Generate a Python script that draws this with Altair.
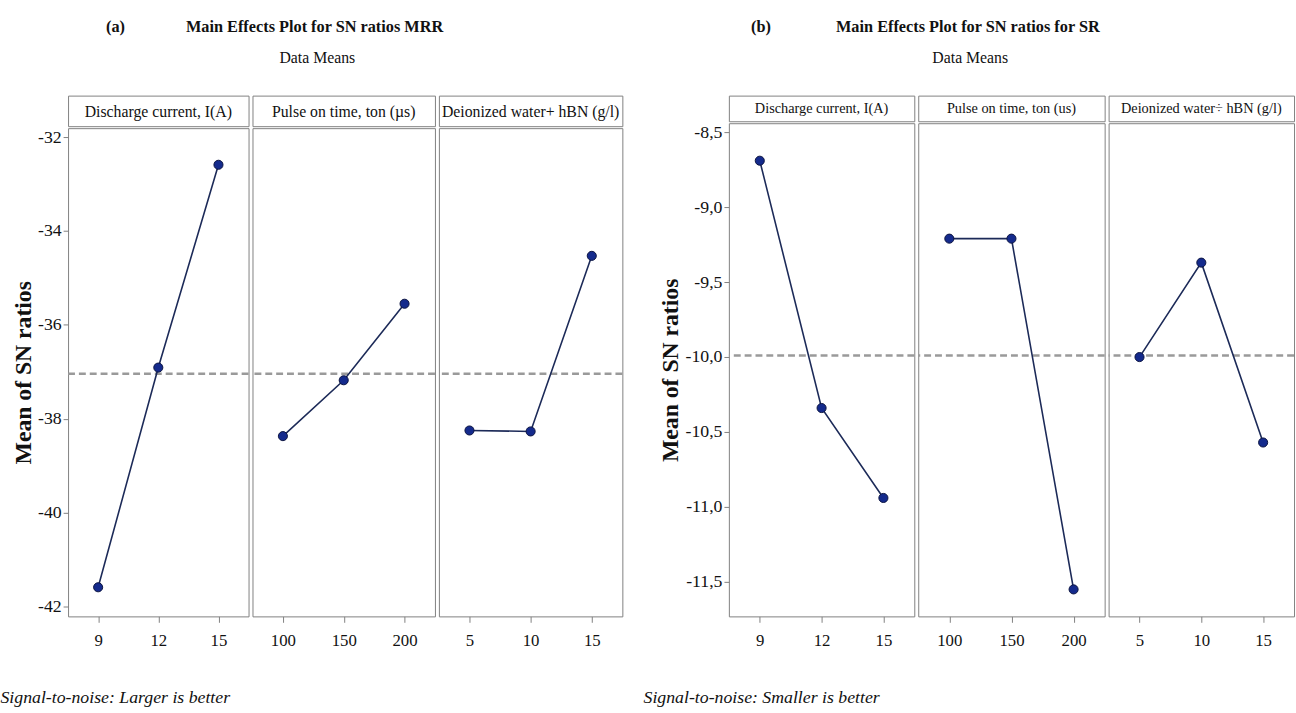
import altair as alt
import pandas as pd

FONT = "Liberation Serif"
GRAY = "#808080"
LINE_COL = "#1c2a58"
PT_COL = "#142a8c"
PT_EDGE = "#0b1340"
DASH_COL = "#9a9a9a"
NB = "\u00a0"
ZW = "\u200b"

# ---------------- panel (a) : MRR ----------------
A_FACTORS = ["Discharge current, I(A)", "Pulse on time, ton (µs)", "Deionized water+ hBN (g/l)"]
A_LEVELS = [["9", "12", "15"], ["100", "150", "200"], ["5", "10", "15"]]
A_I = [-41.59, -36.91, -32.59]
A_TON = [-38.37, -37.18, -35.55]
A_HBN = [-38.25, -38.27, -34.53]
A_MEAN = -37.04
A_TICKS = [-42, -40, -38, -36, -34, -32]
A_DOMAIN = [-42.21, -31.81]
A_WIDTHS = [183, 185, 186]

# ---------------- panel (b) : SR ----------------
B_FACTORS = ["Discharge current, I(A)", "Pulse on time, ton (us)", "Deionized water÷ hBN (g/l)"]
B_LEVELS = [["9", "12", "15"], ["100", "150", "200"], ["5", "10", "15"]]
B_I = [-8.69, -10.34, -10.94]
B_TON = [-9.21, -9.21, -11.55]
B_HBN = [-10.00, -9.37, -10.57]
B_MEAN = -9.99
B_TICKS = [-11.5, -11.0, -10.5, -10.0, -9.5, -9.0, -8.5]
B_DOMAIN = [-11.73, -8.44]
B_WIDTHS = [188, 189, 188]


def sub_chart(factor, levels, values, mean, domain, ticks, width, plot_h,
              header_h, header_fs, show_y, extent, label_expr):
    df = pd.DataFrame({"level": levels, "value": values})
    x = alt.X("level:O", sort=levels,
              scale=alt.Scale(type="point", padding=0.5),
              axis=alt.Axis(title=None, labelAngle=0, labelFont=FONT, labelFontSize=17,
                            labelColor="#111111", tickColor=GRAY, tickSize=6,
                            labelPadding=11, domain=False))
    if show_y:
        yaxis = alt.Axis(title="Mean of SN ratios", values=ticks, labelExpr=label_expr,
                         labelFont=FONT, labelFontSize=18, labelColor="#111111",
                         tickColor=GRAY, tickSize=5, labelPadding=2, domain=False,
                         grid=False, minExtent=extent, maxExtent=extent,
                         titleFont=FONT, titleFontSize=24, titleFontWeight="bold",
                         titleColor="#111111", titlePadding=2)
    else:
        yaxis = None
    yscale = alt.Scale(domain=domain, nice=False, zero=False)
    y = alt.Y("value:Q", scale=yscale, axis=yaxis)

    base = alt.Chart(df)
    rule = alt.Chart(pd.DataFrame({"value": [mean]})).mark_rule(
        color=DASH_COL, strokeWidth=2.6, strokeDash=[7, 4]
    ).encode(y=alt.Y("value:Q", scale=yscale, axis=yaxis))
    line = base.mark_line(color=LINE_COL, strokeWidth=1.6).encode(x=x, y=y)
    pts = base.mark_circle(size=85, color=PT_COL, stroke=PT_EDGE, strokeWidth=1,
                           opacity=1).encode(x=x, y=y)
    plot = alt.layer(rule, line, pts).properties(width=width, height=plot_h)

    hdr = alt.Chart(pd.DataFrame({"t": [factor]})).mark_text(
        font=FONT, fontSize=header_fs, color="#111111", baseline="middle", align="center"
    ).encode(text="t:N", x=alt.value(width / 2), y=alt.value(header_h / 2 + 1)).properties(
        width=width, height=header_h)
    return alt.vconcat(hdr, plot, spacing=0)


def panel(factors, levels, series, mean, domain, ticks, widths, plot_h, header_h,
          header_fs, extent, label_expr, title, title_dx, sub_pad, foot, foot_dx):
    subs = []
    for i in range(3):
        subs.append(sub_chart(factors[i], levels[i], series[i], mean, domain, ticks,
                              widths[i], plot_h, header_h, header_fs, i == 0, extent,
                              label_expr))
    p = alt.hconcat(*subs, spacing=0).properties(
        title=alt.TitleParams(text=title, subtitle=ZW + NB * sub_pad + "Data Means",
                              anchor="start", dx=title_dx, font=FONT, fontSize=16.5,
                              fontWeight="bold", color="#111111", subtitleFont=FONT,
                              subtitleFontSize=16, subtitleColor="#111111",
                              subtitlePadding=15, offset=30))
    return alt.vconcat(p).properties(
        title=alt.TitleParams(text=foot, orient="bottom", anchor="start", dx=foot_dx,
                              font=FONT, fontSize=18, fontStyle="italic",
                              fontWeight="normal", color="#111111", offset=40))


pa = panel(A_FACTORS, A_LEVELS, [A_I, A_TON, A_HBN], A_MEAN, A_DOMAIN, A_TICKS,
           A_WIDTHS, 495, 31, 16, 31,
           "'-' + format(abs(datum.value), 'd')",
           "(a)" + NB * 15 + "Main Effects Plot for SN ratios MRR", 96, 44,
           "Signal-to-noise: Larger is better", -11)

pb = panel(B_FACTORS, B_LEVELS, [B_I, B_TON, B_HBN], B_MEAN, B_DOMAIN, B_TICKS,
           B_WIDTHS, 500, 26, 14.5, 45,
           "'-' + replace(format(abs(datum.value), '.1f'), '.', ',')",
           "(b)" + NB * 16 + "Main Effects Plot for SN ratios for SR", 94, 46,
           "Signal-to-noise: Smaller is better", -15)

chart = alt.hconcat(pa, pb, spacing=19).properties(
    padding={"left": 0, "top": 14, "right": 0, "bottom": 0},
    background="white",
).configure_view(stroke=GRAY, strokeWidth=1).configure_axis(grid=False)

chart.save("out.html", embed_options={"renderer": "svg", "actions": False})
